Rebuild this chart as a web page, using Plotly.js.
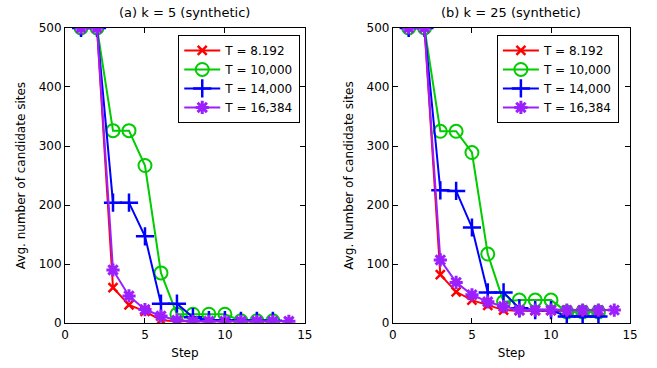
<!DOCTYPE html>
<html><head><meta charset="utf-8">
<script src="https://cdn.plot.ly/plotly-3.0.1.min.js"></script>
<style>html,body{margin:0;padding:0;background:#fff}#c{width:657px;height:368px}</style>
</head><body><div id="c"></div>
<script>
const seriesNames = ['T = 8.192', 'T = 10,000', 'T = 14,000', 'T = 16,384'];
const steps = [1,2,3,4,5,6,7,8,9,10,11,12,13,14];

// (a) k = 5
const k5_red    = [500,500,60,31,20,5,3,3,3,3,3,3,3];
const k5_green  = [500,500,326,326,267,85,15,15,15,15,4,4,4];
const k5_blue   = [500,500,204,204,147,33,33,10,5,5,4,4,4];
const k5_purple = [500,500,90,46,23,12,5,3,3,3,3,3,3,3];

// (b) k = 25
const k25_red    = [500,500,82,53,39,30,22,21,21,21,20,20,20];
const k25_green  = [500,500,325,325,289,117,36,39,39,39,19,19,19];
const k25_blue   = [500,500,225,224,162,52,52,25,22,22,11,11,11];
const k25_purple = [500,500,107,69,48,36,28,22,22,22,22,22,22,22];

const colors = ['#ff0000', '#00cc00', '#0000ff', '#9b1fff'];
const markers = [
  {symbol:'x-thin', size:9, line:{width:2.5}},
  {symbol:'circle-open', size:13, line:{width:2}},
  {symbol:'cross-thin', size:13, line:{width:2.5}},
  {symbol:'asterisk-open', size:11, line:{width:3}}
];

function mk(ys, i, xa, ya, leg) {
  const m = Object.assign({}, markers[i]);
  m.color = colors[i];
  m.line = Object.assign({color: colors[i]}, markers[i].line);
  return {
    x: steps.slice(0, ys.length), y: ys, type:'scatter', mode:'lines+markers',
    name: seriesNames[i], xaxis: xa, yaxis: ya, legend: leg,
    line:{color: colors[i], width:2}, marker: m
  };
}

const data = [];
[k5_red, k5_green, k5_blue, k5_purple].forEach((s,i)=>data.push(mk(s,i,'x','y','legend')));
[k25_red, k25_green, k25_blue, k25_purple].forEach((s,i)=>data.push(mk(s,i,'x2','y2','legend2')));

const F = 'DejaVu Sans, Liberation Sans, Arial, sans-serif';
function xax(dom, anchor) {
  return {domain: dom, anchor: anchor, range:[0,15], dtick:5, tick0:0,
    showline:true, mirror:'ticks', linecolor:'#000', linewidth:1,
    ticks:'inside', ticklen:5, tickcolor:'#000', showgrid:false, zeroline:false,
    tickfont:{family:F, size:12, color:'#000'},
    title:{text:'Step', font:{family:F, size:12, color:'#000'}, standoff:8}};
}
function yax(anchor, t) {
  return {domain:[0.122, 0.924], anchor: anchor, range:[0,500], dtick:100,
    showline:true, mirror:'ticks', linecolor:'#000', linewidth:1,
    ticks:'inside', ticklen:5, tickcolor:'#000', showgrid:false, zeroline:false,
    tickfont:{family:F, size:12, color:'#000'},
    title:{text:t, font:{family:F, size:12, color:'#000'}, standoff:10}};
}
function leg(xr) {
  return {x:xr, y:0.905, xanchor:'right', yanchor:'top', bgcolor:'#fff',
    bordercolor:'#000', borderwidth:1, font:{family:F, size:12, color:'#000'},
    tracegroupgap:0, itemwidth:36};
}

const layout = {
  width:657, height:368, margin:{l:0,r:0,t:0,b:0},
  paper_bgcolor:'#fff', plot_bgcolor:'#fff', showlegend:true,
  xaxis: xax([0.099,0.464],'y'),
  yaxis: yax('x','Avg. number of candidate sites'),
  xaxis2: xax([0.598,0.959],'y2'),
  yaxis2: yax('x2','Avg. Number of candidate sites'),
  legend: leg(0.457),
  legend2: leg(0.942),
  annotations:[
    {text:'(a) k = 5 (synthetic)', xref:'paper', yref:'paper', x:0.2815, y:1-12/368,
     xanchor:'center', yanchor:'middle', showarrow:false, font:{family:F, size:13, color:'#000'}},
    {text:'(b) k = 25 (synthetic)', xref:'paper', yref:'paper', x:0.7785, y:1-12/368,
     xanchor:'center', yanchor:'middle', showarrow:false, font:{family:F, size:13, color:'#000'}}
  ]
};
Plotly.newPlot('c', data, layout, {displayModeBar:false, staticPlot:true});
</script></body></html>
